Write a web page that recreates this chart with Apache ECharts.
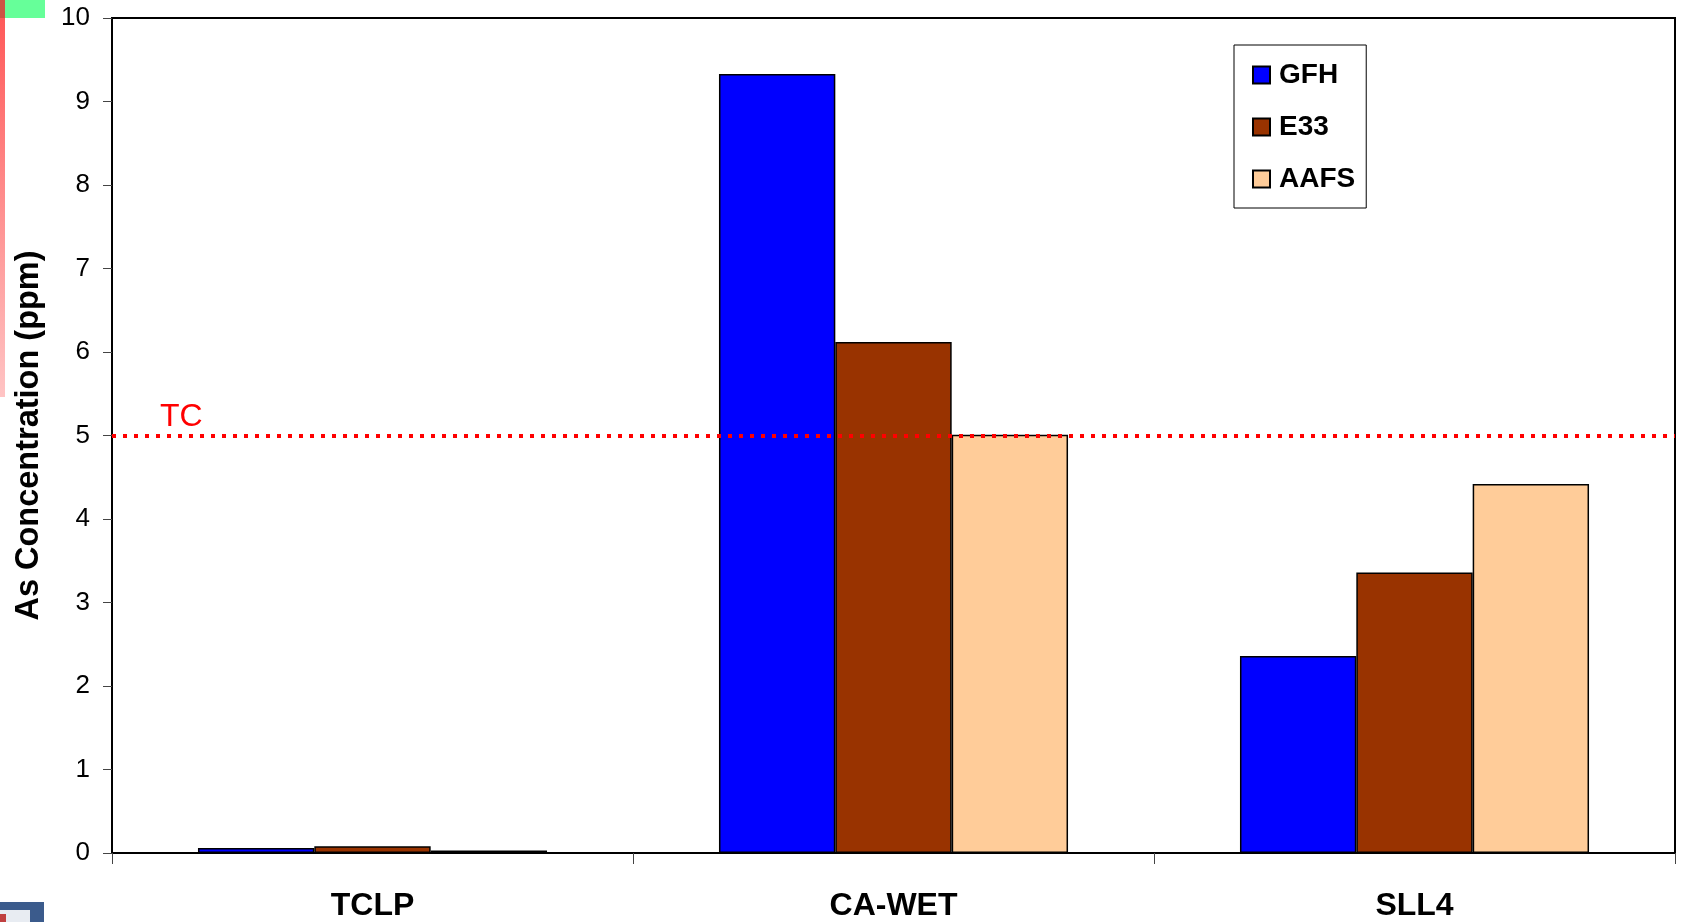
<!DOCTYPE html>
<html>
<head>
<meta charset="utf-8">
<title>As Concentration by Leaching Test</title>
<script src="https://cdn.jsdelivr.net/npm/echarts@6/dist/echarts.min.js"></script>
<style>
  html, body { margin: 0; padding: 0; background: #fff; }
  #chart { width: 1682px; height: 922px; }
</style>
</head>
<body>
<div id="chart"></div>
<script>
// Leaching test methods
const categories = ['TCLP', 'CA-WET', 'SLL4'];
// Arsenic concentration (ppm) per media
const gfhValues = [0.06, 9.33, 2.36];
const e33Values = [0.08, 6.12, 3.36];
const aafsValues = [0.03, 5.01, 4.42];
// Toxicity characteristic limit (ppm)
const tcLimit = 5;
const tcLabel = 'TC';
// Y axis range and step
const yMin = 0, yMax = 10, yStep = 1;

const FONT = '"Liberation Sans", Arial, sans-serif';

const chart = echarts.init(document.getElementById('chart'), null, { renderer: 'canvas' });

function barSeries(name, data, color, extra) {
  return Object.assign({
    name: name,
    type: 'bar',
    data: data,
    barGap: '0%',
    barCategoryGap: '33%',
    itemStyle: { color: color, borderColor: '#000', borderWidth: 1.5 },
    emphasis: { disabled: true }
  }, extra || {});
}

const option = {
  animation: false,
  backgroundColor: '#fff',
  textStyle: { fontFamily: FONT },
  grid: {
    left: 112, right: 7, top: 18, bottom: 67,
    show: true, borderColor: '#000', borderWidth: 2, backgroundColor: 'transparent'
  },
  legend: {
    orient: 'vertical',
    left: 1234, top: 45,
    width: 134,
    padding: [16, 11, 15, 18],
    itemGap: 24,
    itemWidth: 17, itemHeight: 17,
    icon: 'rect',
    backgroundColor: '#fff',
    borderColor: '#000', borderWidth: 1,
    selectedMode: false,
    textStyle: { fontFamily: FONT, fontSize: 28, fontWeight: 'bold', color: '#000', padding: [0, 0, 0, 4] },
    data: ['GFH', 'E33', 'AAFS']
  },
  xAxis: {
    type: 'category',
    data: categories,
    boundaryGap: true,
    axisLine: { show: true, lineStyle: { color: '#000', width: 2 } },
    axisTick: { show: true, length: 11, lineStyle: { color: '#444', width: 1 } },
    axisLabel: { fontFamily: FONT, fontSize: 32, fontWeight: 'bold', color: '#000', margin: 37 },
    splitLine: { show: false }
  },
  yAxis: {
    type: 'value',
    min: yMin, max: yMax, interval: yStep,
    name: 'As Concentration (ppm)',
    nameLocation: 'middle',
    nameGap: 66,
    nameTextStyle: { fontFamily: FONT, fontSize: 32.5, fontWeight: 'bold', color: '#000' },
    axisLine: { show: true, lineStyle: { color: '#000', width: 2 } },
    axisTick: { show: true, length: 9, lineStyle: { color: '#444', width: 1 } },
    axisLabel: { fontFamily: FONT, fontSize: 26, color: '#000', margin: 22 },
    splitLine: { show: false }
  },
  series: [
    barSeries('GFH', gfhValues, '#0000FF', {
      markLine: {
        silent: true,
        symbol: ['none', 'none'],
        label: { show: false },
        emphasis: { disabled: true },
        lineStyle: { color: '#FF0000', width: 4, type: [4, 7] },
        data: [{ yAxis: tcLimit }]
      }
    }),
    barSeries('E33', e33Values, '#993300'),
    barSeries('AAFS', aafsValues, '#FFCC99')
  ]
};

chart.setOption(option);

// "TC" caption sitting just above the limit line, near the y axis
const tcY = chart.convertToPixel({ yAxisIndex: 0 }, tcLimit);
chart.setOption({
  graphic: [
    {
      type: 'text', left: 160, top: tcY - 34, silent: true,
      style: { text: tcLabel, fill: '#FF0000', font: '32px ' + FONT }
    },
    // slide decorations along the page edge
    { type: 'rect', shape: { x: 4, y: 0, width: 41, height: 18 }, style: { fill: '#66FF99' }, silent: true },
    { type: 'rect', shape: { x: 0, y: 0, width: 5, height: 18 }, style: { fill: '#CC5544' }, silent: true },
    {
      type: 'rect', shape: { x: 0, y: 18, width: 5, height: 379 }, silent: true,
      style: { fill: new echarts.graphic.LinearGradient(0, 0, 0, 1, [
        { offset: 0, color: '#FF5A5A' }, { offset: 1, color: '#FFC4C4' }
      ]) }
    },
    { type: 'rect', shape: { x: 0, y: 902, width: 44, height: 20 }, style: { fill: '#3B5B8C' }, silent: true },
    { type: 'rect', shape: { x: 0, y: 910, width: 30, height: 12 }, style: { fill: '#E8ECF2' }, silent: true },
    { type: 'rect', shape: { x: 0, y: 914, width: 6, height: 8 }, style: { fill: '#C04040' }, silent: true }
  ]
});
</script>
</body>
</html>
